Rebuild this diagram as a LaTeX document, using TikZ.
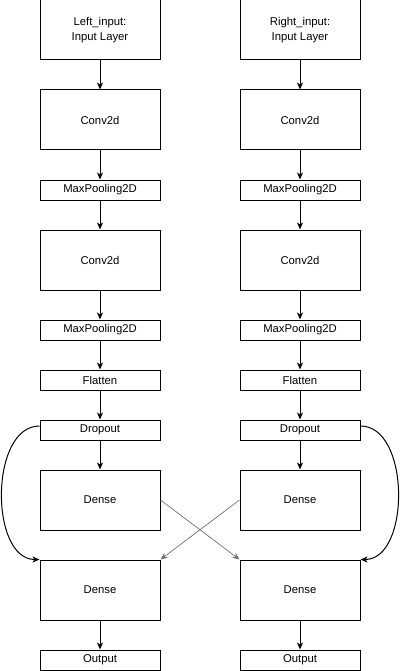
\documentclass[tikz,border=0pt]{standalone}
\usepackage{fontspec}
\setmainfont{Liberation Sans}
\usetikzlibrary{arrows.meta}
\begin{document}
\begin{tikzpicture}[x=1pt,y=-1pt,
  layer/.style={draw=black,line width=1pt,fill=white,inner sep=0pt,
    minimum width=120pt,font=\fontsize{11.3}{15}\selectfont,align=center},
  big/.style={layer,minimum height=60pt},
  thin/.style={layer,minimum height=20pt},
  flow/.style={line width=1pt,-{Stealth[length=7pt,width=6pt,inset=2pt]}},
  cross/.style={draw=black!55,line width=0.7pt,-{Stealth[length=7pt,width=6pt,inset=2pt]}}]
\useasboundingbox (0,0) rectangle (401,671);

% left branch
\node[big]  (inL)   at (100,30)  {Left\_input:\\Input Layer};
\node[big]  (c1L)   at (100,120) {Conv2d};
\node[thin] (p1L)   at (100,190) {MaxPooling2D};
\node[big]  (c2L)   at (100,260) {Conv2d};
\node[thin] (p2L)   at (100,330) {MaxPooling2D};
\node[thin] (flL)   at (100,380) {Flatten};
\node[thin] (drL)   at (100,430) {Dropout};
\node[big]  (d1L)   at (100,500) {Dense};
\node[big]  (d2L)   at (100,590) {Dense};
\node[thin] (outL)  at (100,660) {Output};

% right branch
\node[big]  (inR)   at (300,30)  {Right\_input:\\Input Layer};
\node[big]  (c1R)   at (300,120) {Conv2d};
\node[thin] (p1R)   at (300,190) {MaxPooling2D};
\node[big]  (c2R)   at (300,260) {Conv2d};
\node[thin] (p2R)   at (300,330) {MaxPooling2D};
\node[thin] (flR)   at (300,380) {Flatten};
\node[thin] (drR)   at (300,430) {Dropout};
\node[big]  (d1R)   at (300,500) {Dense};
\node[big]  (d2R)   at (300,590) {Dense};
\node[thin] (outR)  at (300,660) {Output};

% straight flow down each branch
\foreach \s in {L,R}{
  \draw[flow] (in\s)  -- (c1\s);
  \draw[flow] (c1\s)  -- (p1\s);
  \draw[flow] (p1\s)  -- (c2\s);
  \draw[flow] (c2\s)  -- (p2\s);
  \draw[flow] (p2\s)  -- (fl\s);
  \draw[flow] (fl\s)  -- (dr\s);
  \draw[flow] (dr\s)  -- (d1\s);
  \draw[flow] (d2\s)  -- (out\s);
}

% skip connections around the first dense layers
\draw[flow] ([yshift=4pt]drL.west) .. controls +(-50,0) and +(-50,0) .. (d2L.north west);
\draw[flow] ([yshift=4pt]drR.east) .. controls +(50,0) and +(50,0) .. (d2R.north east);

% crossed connections between the branches
\draw[cross] (d1L.east) -- (d2R.north west);
\draw[cross] (d1R.west) -- (d2L.north east);
\end{tikzpicture}
\end{document}
